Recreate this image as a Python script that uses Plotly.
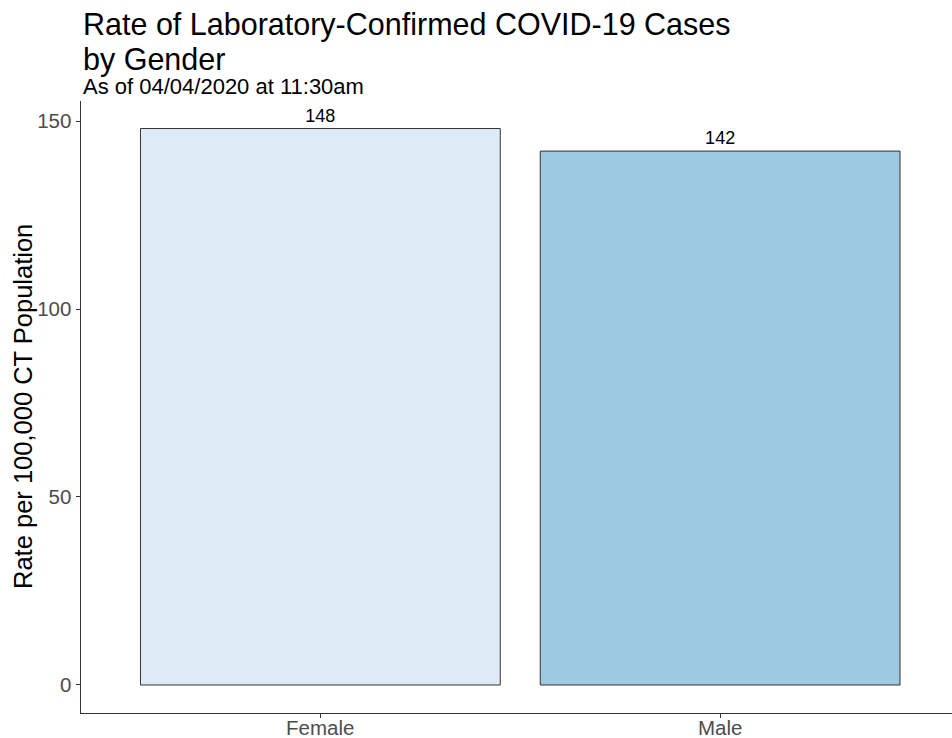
import plotly.graph_objects as go

genders = ["Female", "Male"]
rates = [148, 142]
bar_colors = ["#deebf7", "#9ecae1"]
y_ticks = [0, 50, 100, 150]

W, H = 952, 738
FONT = "Liberation Sans, Arial, sans-serif"

# plot area in screen pixels
x0_px, y_top_px, y_bot_px = 80.5, 100.7, 713


def px_x(px):
    # screen column -> paper x
    return px / W


def px_y(px):
    # screen row from the top -> paper y
    return 1 - px / H


fig = go.Figure()
fig.add_trace(go.Bar(
    x=genders,
    y=rates,
    width=0.9,
    marker=dict(color=bar_colors, line=dict(color="#333333", width=1)),
    text=[str(v) for v in rates],
    textposition="outside",
    textfont=dict(family=FONT, size=18, color="black"),
    cliponaxis=False,
    showlegend=False,
))

axis_style = dict(
    showline=True, linecolor="#333333", linewidth=1,
    ticks="outside", ticklen=4, tickcolor="#333333",
    tickfont=dict(size=20.5, color="#4d4d4d"),
    showgrid=False, zeroline=False, automargin=False,
)

# x tick labels sit tight under the axis line, as annotations on the x scale
x_labels = [
    dict(text=g, xref="x", yref="paper", x=g, y=px_y(713.5),
         xanchor="center", yanchor="top", showarrow=False,
         font=dict(size=20.5, color="#4d4d4d"))
    for g in genders
]


def title_line(text, top, size):
    return dict(text=text, xref="paper", yref="paper", x=px_x(x0_px), y=px_y(top),
                xanchor="left", yanchor="top", showarrow=False,
                font=dict(size=size, color="black"))


fig.update_layout(
    width=W,
    height=H,
    margin=dict(l=0, r=0, t=0, b=0, autoexpand=False),
    plot_bgcolor="white",
    paper_bgcolor="white",
    font=dict(family=FONT),
    bargap=0.1,
    xaxis=dict(axis_style, domain=[px_x(x0_px), 1], range=[-0.6, 1.58],
               showticklabels=False),
    yaxis=dict(axis_style, domain=[px_y(y_bot_px), px_y(y_top_px)],
               range=[-7.45, 155.4], tickvals=y_ticks),
    annotations=x_labels + [
        title_line("Rate of Laboratory-Confirmed COVID-19 Cases", 5, 30.5),
        title_line("by Gender", 40, 30.5),
        title_line("As of 04/04/2020 at 11:30am", 72, 22),
        dict(text="Rate per 100,000 CT Population",
             xref="paper", yref="paper", x=px_x(23), y=px_y(407),
             xanchor="center", yanchor="middle", textangle=-90,
             showarrow=False, font=dict(size=25.5, color="black")),
    ],
)

# drop the browser's default body margin so the figure fills the window
fig.write_html(
    "out.html",
    config={"displayModeBar": False},
    post_script="document.body.style.margin='0';document.body.style.overflow='hidden';",
)
